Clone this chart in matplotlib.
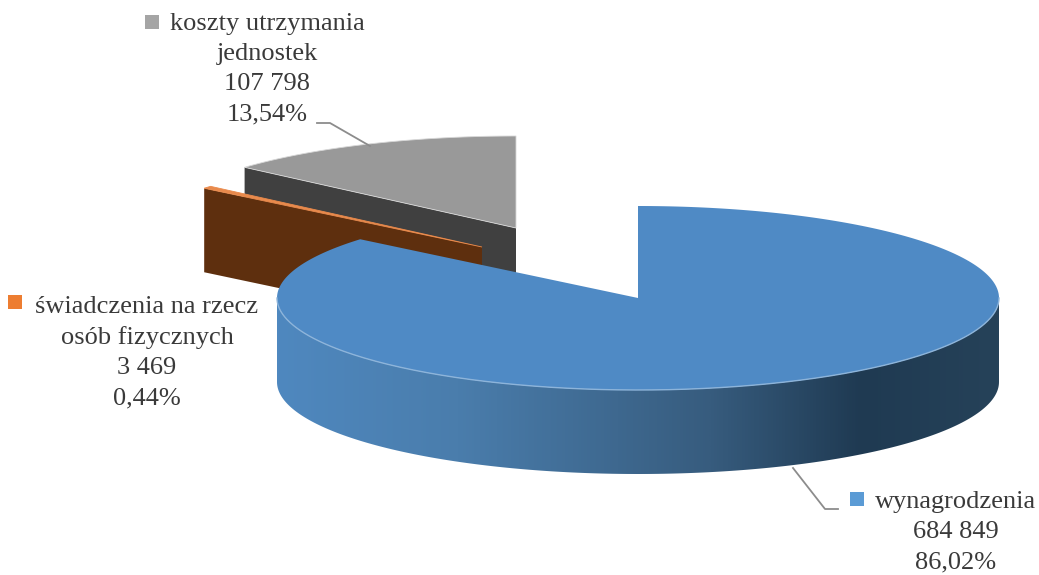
import numpy as np
import matplotlib.pyplot as plt
from matplotlib.colors import LinearSegmentedColormap
from matplotlib.patches import Polygon

plt.rcParams['font.family'] = ['Liberation Serif', 'DejaVu Serif']

# kolejnosc zgodnie z ruchem zegara, od godziny 12
names = ["wynagrodzenia", "świadczenia na rzecz\nosób fizycznych", "koszty utrzymania\njednostek"]
values = [684849, 3469, 107798]
value_labels = ["684 849", "3 469", "107 798"]
percent_labels = ["86,02%", "0,44%", "13,54%"]

top_colors = ["#4F8AC5", "#E98A4C", "#999999"]
side_colors = ["#4A80B5", "#5E2F0E", "#404040"]
marker_colors = ["#5B9BD5", "#ED7D31", "#A5A5A5"]
centers = [(638, 298), (482, 247), (516, 228)]
label_pos = [(956, 491), (147, 296), (267, 13)]
marker_pos = [(857, 499), (15, 302), (152, 22)]

# gradient bocznej sciany niebieskiego wycinka
grad_pos = [0.0, 0.25, 0.60, 0.81, 1.0]
grad_colors = ["#4F88BF", "#4A7DAC", "#375C7E", "#1F3A52", "#264259"]

rx = 361
ry = 92
depth = 84

total = sum(values)
fractions = [v / total for v in values]
edges = np.cumsum([0] + fractions) * 2 * np.pi


def rim(center, t):
    return np.column_stack([center[0] + rx * np.sin(t), center[1] - ry * np.cos(t)])


fig = plt.figure(figsize=(10.39, 5.75), dpi=100)
ax = fig.add_axes([0, 0, 1, 1])
ax.set_xlim(0, 1039)
ax.set_ylim(575, 0)
ax.axis("off")

# tylne wycinki rysowane najpierw
for i, z in [(2, 2), (1, 3)]:
    c = np.array(centers[i])
    t = np.linspace(edges[i], edges[i + 1], 60)
    edge = rim(c, edges[i])[0]
    face = np.array([c, edge, edge + [0, depth], c + [0, depth]])
    ax.add_patch(Polygon(face, closed=True, fc=side_colors[i], ec="none", zorder=z))
    top = np.vstack([c, rim(c, t)])
    ax.add_patch(Polygon(top, closed=True, fc=top_colors[i], ec="#D8D8D8" if i == 2 else top_colors[i],
                         lw=0.6, zorder=z + 0.5))

# glowny wycinek
c = np.array(centers[0])
front = np.linspace(np.pi / 2, 3 * np.pi / 2, 200)
upper = rim(c, front)
side = np.vstack([upper, (upper + [0, depth])[::-1]])
side_patch = Polygon(side, closed=True, fc="none", ec="none", zorder=5)
ax.add_patch(side_patch)
cmap = LinearSegmentedColormap.from_list("bok", list(zip(grad_pos, grad_colors)))
im = ax.imshow(np.linspace(0, 1, 512).reshape(1, -1), cmap=cmap, aspect="auto", zorder=5,
               extent=(c[0] - rx, c[0] + rx, c[1] + ry + depth, c[1]), vmin=0, vmax=1)
im.set_clip_path(side_patch)
ax.set_xlim(0, 1039)
ax.set_ylim(575, 0)

t = np.linspace(edges[0], edges[1], 300)
top = np.vstack([c, rim(c, t)])
ax.add_patch(Polygon(top, closed=True, fc=top_colors[0], ec="none", zorder=6))
ax.plot(upper[:, 0], upper[:, 1], color="#8DB4DA", lw=1.0, zorder=7)

# linie odniesienia
ax.plot([793, 825, 838], [468, 509, 509], color="#8C8C8C", lw=1.3, zorder=4)
ax.plot([317, 330, 370], [123, 123, 146], color="#8C8C8C", lw=1.3, zorder=4)

for i in range(3):
    text = names[i] + "\n" + value_labels[i] + "\n" + percent_labels[i]
    ax.text(label_pos[i][0], label_pos[i][1], text, ha="center", va="top", fontsize=19,
            linespacing=1.47, color="#3A3A3A", zorder=8)
    ax.scatter(marker_pos[i][0], marker_pos[i][1], marker="s", s=90, color=marker_colors[i],
               edgecolors="none", zorder=8)

fig.savefig("out.png", dpi=100)
